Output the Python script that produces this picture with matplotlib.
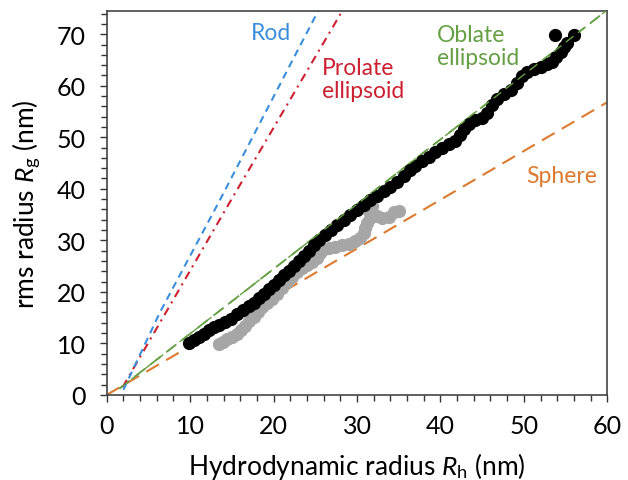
import numpy as np
import matplotlib
matplotlib.use("Agg")
import matplotlib.pyplot as plt
from matplotlib.ticker import MultipleLocator

# measured Rh / Rg (nm), black series
black_rh = [9.8, 10.4, 11.0, 11.6, 12.2, 12.9, 13.5, 14.2, 14.9, 15.6, 16.3, 17.0, 17.6, 18.2,
            18.8, 19.4, 20.0, 20.6, 21.2, 21.8, 22.4, 23.0, 23.6, 24.2, 24.8, 25.5, 26.2, 26.9,
            27.6, 28.4, 29.2, 30.0, 30.8, 31.6, 32.4, 33.2, 34.0, 34.8, 35.6, 36.4, 37.0, 37.8,
            38.6, 39.4, 40.2, 41.0, 41.8, 42.4, 42.8, 43.4, 44.2, 45.0, 45.6, 46.2, 46.8, 47.6,
            48.4, 49.2, 49.8, 50.4, 51.2, 52.0, 52.8, 53.4, 53.8, 54.4, 54.8, 55.2, 53.7, 56.0]
black_rg = [10.0, 10.6, 11.3, 11.9, 12.5, 13.1, 13.6, 14.2, 14.8, 15.6, 16.4, 17.2, 17.9, 18.8,
            19.6, 20.5, 21.4, 22.3, 23.2, 24.1, 25.0, 26.0, 27.0, 28.0, 29.0, 30.0, 31.1, 32.0,
            33.0, 34.0, 34.9, 35.8, 36.8, 37.8, 38.6, 39.5, 40.4, 41.3, 42.4, 43.6, 44.4, 45.3,
            46.2, 47.2, 48.0, 48.6, 49.2, 50.4, 51.6, 52.6, 53.4, 53.8, 54.8, 56.2, 57.4, 58.4,
            59.2, 60.6, 61.8, 62.6, 63.2, 63.6, 64.2, 64.6, 65.6, 66.6, 67.6, 68.2, 69.8, 69.8]

# grey series
grey_rh = [13.4, 13.9, 14.4, 15.0, 15.6, 16.1, 16.6, 17.1, 17.6, 18.1, 18.6, 19.2, 19.8, 20.4,
           21.0, 21.6, 22.2, 22.8, 23.4, 24.0, 24.6, 25.2, 25.6, 26.0, 26.6, 27.4, 28.2, 29.0,
           29.8, 30.4, 30.8, 31.0, 31.2, 31.6, 31.4, 31.8, 32.4, 33.0, 33.8, 34.4, 35.0]
grey_rg = [9.9, 10.3, 10.8, 11.3, 11.8, 12.5, 13.4, 14.3, 15.2, 16.1, 17.0, 17.8, 18.6, 19.6,
           20.8, 21.9, 22.9, 23.8, 24.6, 25.2, 25.8, 26.6, 27.6, 28.3, 28.5, 28.7, 29.0, 29.3,
           29.8, 30.4, 31.4, 32.4, 33.4, 34.4, 35.6, 36.6, 34.8, 34.4, 34.6, 35.4, 35.6]

# model lines
rod_rh = [2.0, 6.4, 13.3, 25.4]
rod_rg = [1.0, 16.1, 37.0, 74.7]
prolate_rh = [1.9, 14.5, 28.3]
prolate_rg = [1.5, 36.7, 74.7]
oblate_rh = [1.5, 60.0]
oblate_rg = [1.2, 74.7]
sphere_rh = [0.0, 60.0]
sphere_rg = [0.0, 56.8]

c_rod = "#3A8EDB"
c_prolate = "#CC2131"
c_oblate = "#64A043"
c_sphere = "#DC7A2F"

plt.rcParams['font.family'] = ['Lato', 'DejaVu Sans']
plt.rcParams['mathtext.fontset'] = 'custom'
plt.rcParams['mathtext.rm'] = 'Lato'
plt.rcParams['mathtext.it'] = 'Lato:italic'

fig = plt.figure(figsize=(6.28, 4.81), dpi=100)
ax = fig.add_axes([0.170, 0.177, 0.797, 0.798])

ax.plot(sphere_rh, sphere_rg, color=c_sphere, lw=1.5, dashes=(7, 4))
ax.plot(oblate_rh, oblate_rg, color=c_oblate, lw=1.3, dashes=(7, 4))
ax.plot(prolate_rh, prolate_rg, color=c_prolate, lw=1.5, dashes=(4, 2.5, 1, 2.5))
ax.plot(rod_rh, rod_rg, color=c_rod, lw=1.5, dashes=(3.5, 2.5))

ax.plot(grey_rh, grey_rg, 'o', color="#A6A6A6", ms=8.5, mec="#A6A6A6", zorder=3)
ax.plot(black_rh, black_rg, 'o', color="black", ms=8.5, zorder=4)
ax.plot(oblate_rh, oblate_rg, color=c_oblate, lw=1.0, dashes=(7, 4), zorder=5)

ax.text(19.7, 70.4, "Rod", color=c_rod, fontsize=16.5, ha='center', va='center')
ax.text(25.8, 61.3, "Prolate\nellipsoid", color=c_prolate, fontsize=16.5, ha='left', va='center',
        linespacing=1.1)
ax.text(39.6, 67.7, "Oblate\nellipsoid", color=c_oblate, fontsize=16.5, ha='left', va='center',
        linespacing=1.1)
ax.text(54.5, 42.5, "Sphere", color=c_sphere, fontsize=16.5, ha='center', va='center')

ax.set_xlim(0, 60)
ax.set_ylim(0, 74.5)
ax.xaxis.set_major_locator(MultipleLocator(10))
ax.xaxis.set_minor_locator(MultipleLocator(2))
ax.yaxis.set_major_locator(MultipleLocator(10))
ax.yaxis.set_minor_locator(MultipleLocator(2))
ax.tick_params(which='both', direction='out', labelsize=18, color='#333333', width=1)
ax.tick_params(which='major', length=5)
ax.tick_params(which='minor', length=4)
ax.tick_params(axis='x', pad=9)
ax.tick_params(axis='y', pad=10)
for s in ax.spines.values():
    s.set_color('#444444')
    s.set_linewidth(1.2)

ax.set_xlabel(r"Hydrodynamic radius $R_\mathrm{h}$ (nm)", fontsize=19, labelpad=9)
ax.set_ylabel(r"rms radius $R_\mathrm{g}$ (nm)", fontsize=19, labelpad=10)

fig.savefig("out.png", dpi=100)
